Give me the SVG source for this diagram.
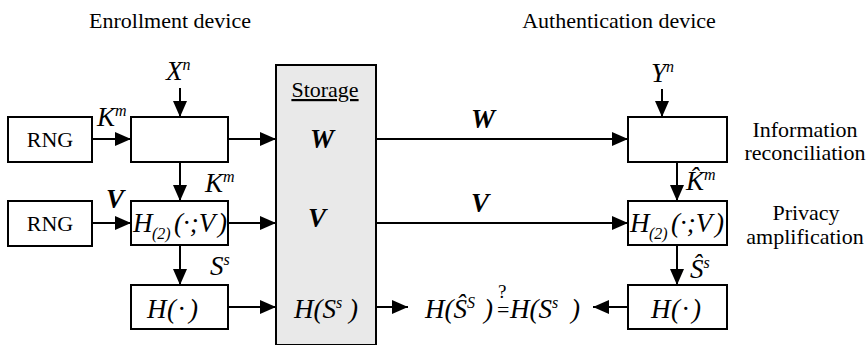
<svg xmlns="http://www.w3.org/2000/svg" width="866" height="345" viewBox="0 0 866 345" font-family="'Liberation Serif', 'Times New Roman', serif">
<defs>
<marker id="ah" markerUnits="userSpaceOnUse" markerWidth="16" markerHeight="14" refX="16" refY="7" orient="auto">
<path d="M0,0 L16,7 L0,14 Z" fill="#000"/>
</marker>
<style>
.box{fill:#fff;stroke:#000;stroke-width:2}
.stor{fill:#e9e9e9;stroke:#000;stroke-width:2}
.ar{stroke:#000;stroke-width:2;fill:none;marker-end:url(#ah)}
text{font-family:'Liberation Serif','Times New Roman',serif;fill:#000}
.t{font-size:22px}
.m{font-size:27px;font-style:italic}
.b{font-weight:bold}
.sup{font-size:16px}
.sub{font-size:16px}
</style>
</defs>
<rect width="866" height="345" fill="#fff"/>
<g id="titles">
<text class="t" x="170" y="28" text-anchor="middle">Enrollment device</text>
<text class="t" x="619" y="28" text-anchor="middle">Authentication device</text>
</g>
<g id="rng1">
<rect class="box" x="8" y="117" width="84" height="45"/>
<text class="t" x="50" y="147" text-anchor="middle">RNG</text>
</g>
<g id="enc1">
<rect class="box" x="131" y="117" width="97" height="45"/>
</g>
<g id="rng2">
<rect class="box" x="8" y="201" width="84" height="45"/>
<text class="t" x="50" y="231" text-anchor="middle">RNG</text>
</g>
<g id="enc2">
<rect class="box" x="131" y="201" width="97" height="44"/>
<text class="m" x="133" y="232">H<tspan class="sub" x="152" dy="7">(2)</tspan><tspan x="174" dy="-7">(·;V</tspan><tspan x="218">)</tspan></text>
</g>
<g id="enc3">
<rect class="box" x="131" y="285" width="97" height="44"/>
<text class="m" x="147" y="318">H<tspan x="167">(</tspan><tspan x="178">·</tspan><tspan x="189">)</tspan></text>
</g>
<g id="storage">
<rect class="stor" x="276" y="65" width="100" height="280"/>
<text class="t" x="325" y="97" text-anchor="middle" text-decoration="underline">Storage</text>
<text class="m b" x="322" y="148" text-anchor="middle">W</text>
<text class="m b" x="317" y="227" text-anchor="middle">V</text>
<text class="m" x="294" y="318">H(S<tspan class="sup" dy="-10">s</tspan><tspan dy="10" x="349">)</tspan></text>
</g>
<g id="dec1">
<rect class="box" x="628" y="117" width="99" height="45"/>
</g>
<g id="dec2">
<rect class="box" x="628" y="201" width="99" height="44"/>
<text class="m" x="630" y="232">H<tspan class="sub" x="649" dy="7">(2)</tspan><tspan x="671" dy="-7">(·;V</tspan><tspan x="715">)</tspan></text>
</g>
<g id="dec3">
<rect class="box" x="628" y="285" width="99" height="44"/>
<text class="m" x="651" y="318">H<tspan x="671">(</tspan><tspan x="682">·</tspan><tspan x="692">)</tspan></text>
</g>
<g id="side-labels">
<text class="t" x="805" y="137" text-anchor="middle">Information</text>
<text class="t" x="805" y="160" text-anchor="middle">reconciliation</text>
<text class="t" x="806" y="220" text-anchor="middle">Privacy</text>
<text class="t" x="805" y="244" text-anchor="middle">amplification</text>
</g>
<g id="check">
<text class="m" x="425" y="318">H(Ŝ<tspan class="sup" dy="-10">S</tspan><tspan dy="10" x="484">)</tspan></text>
<text class="t" x="497" y="317">=<tspan x="498" y="298" style="font-size:19px">?</tspan></text>
<text class="m" x="510" y="318">H(S<tspan class="sup" dy="-10">s</tspan><tspan dy="10" x="571">)</tspan></text>
</g>
<g id="connectors">
<line class="ar" x1="92" y1="139" x2="131" y2="139"/>
<line class="ar" x1="180" y1="88" x2="180" y2="117"/>
<line class="ar" x1="228" y1="139" x2="276" y2="139"/>
<line class="ar" x1="180" y1="162" x2="180" y2="201"/>
<line class="ar" x1="92" y1="223" x2="131" y2="223"/>
<line class="ar" x1="228" y1="223" x2="276" y2="223"/>
<line class="ar" x1="180" y1="245" x2="180" y2="285"/>
<line class="ar" x1="228" y1="307" x2="276" y2="307"/>
<line class="ar" x1="376" y1="139" x2="628" y2="139"/>
<line class="ar" x1="376" y1="223" x2="628" y2="223"/>
<line class="ar" x1="376" y1="307" x2="408" y2="307"/>
<line class="ar" x1="662" y1="89" x2="662" y2="117"/>
<line class="ar" x1="677" y1="162" x2="677" y2="201"/>
<line class="ar" x1="677" y1="245" x2="677" y2="285"/>
<line class="ar" x1="628" y1="307" x2="593" y2="307"/>
</g>
<g id="connector-labels">
<text class="m" x="166" y="80">X<tspan class="sup" dy="-10">n</tspan></text>
<text class="m" x="97" y="126">K<tspan class="sup" dy="-10">m</tspan></text>
<text class="m" x="205" y="192">K<tspan class="sup" dy="-10">m</tspan></text>
<text class="m b" x="106" y="208">V</text>
<text class="m" x="210" y="275">S<tspan class="sup" dy="-10">s</tspan></text>
<text class="m b" x="483" y="128" text-anchor="middle">W</text>
<text class="m b" x="480" y="212" text-anchor="middle">V</text>
<text class="m" x="651" y="82">Y<tspan class="sup" dy="-10">n</tspan></text>
<text class="m" x="686" y="190">K̂<tspan class="sup" dy="-10">m</tspan></text>
<text class="m" x="690" y="278">Ŝ<tspan class="sup" dy="-10">s</tspan></text>
</g>
</svg>
